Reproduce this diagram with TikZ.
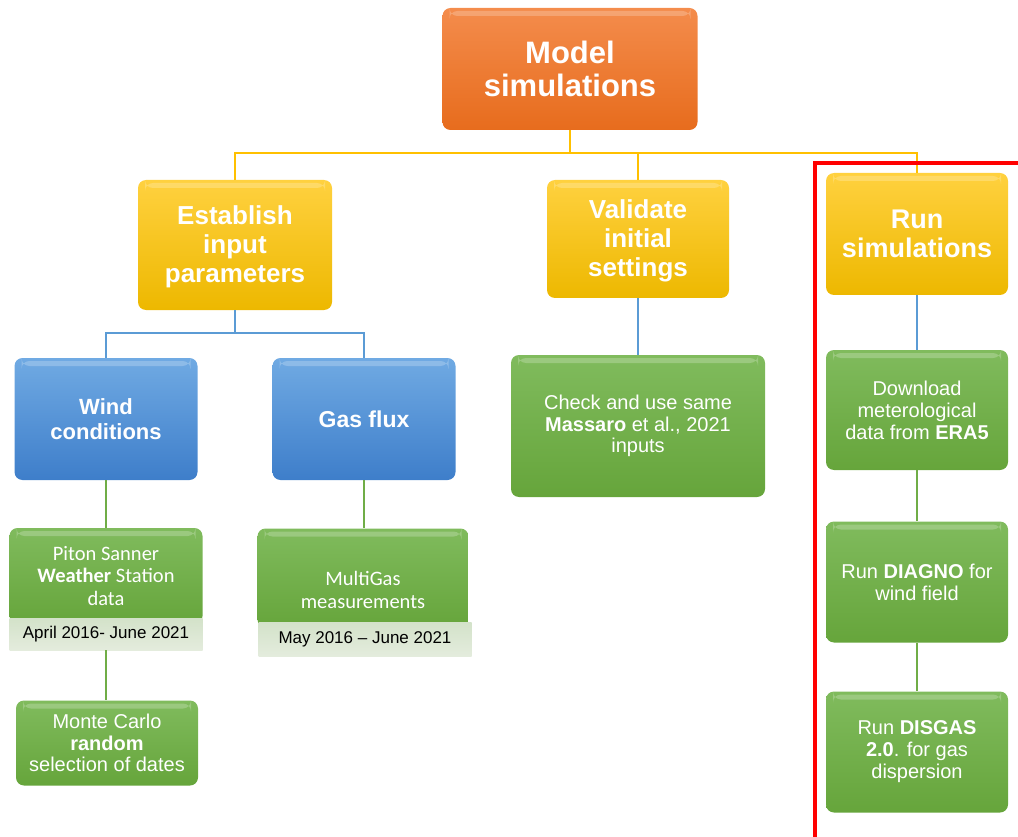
\documentclass[tikz,border=0pt]{standalone}
\usepackage{fontspec}
\setmainfont{Liberation Sans}
\newfontfamily\calibri{Carlito}

\definecolor{orTop}{HTML}{F48C4C}
\definecolor{orBot}{HTML}{E76C1D}
\definecolor{yeTop}{HTML}{FFD13F}
\definecolor{yeBot}{HTML}{EDB800}
\definecolor{blTop}{HTML}{70AAE3}
\definecolor{blBot}{HTML}{3E7ECA}
\definecolor{grTop}{HTML}{80BB5D}
\definecolor{grBot}{HTML}{66A53B}
\definecolor{bandTop}{HTML}{D3E2C9}
\definecolor{bandBot}{HTML}{E4ECDD}
\definecolor{yeLine}{HTML}{FFC000}
\definecolor{blLine}{HTML}{5B9BD5}
\definecolor{grLine}{HTML}{70AD47}
\definecolor{frameRed}{HTML}{FF0000}

\tikzset{
  box/.style={rounded corners=8pt, align=center, text=white, inner sep=0pt,
    path picture={\fill[white,opacity=0.22]
      ([xshift=7pt,yshift=-3pt]path picture bounding box.north west) rectangle
      ([xshift=-7pt,yshift=-8pt]path picture bounding box.north east);}},
  orangebox/.style={box, top color=orTop, bottom color=orBot},
  yellowbox/.style={box, top color=yeTop, bottom color=yeBot},
  bluebox/.style={box, top color=blTop, bottom color=blBot},
  greenbox/.style={box, top color=grTop, bottom color=grBot},
  band/.style={top color=bandTop, bottom color=bandBot, inner sep=0pt, text=black,
    font=\fontsize{17}{19}\selectfont},
  txt/.style={align=center, text=white, inner sep=0pt},
  yline/.style={draw=yeLine, line width=2pt},
  bline/.style={draw=blLine, line width=2pt},
  gline/.style={draw=grLine, line width=2pt},
}

\begin{document}
\begin{tikzpicture}[x=1pt,y=-1pt]
\useasboundingbox (0,0) rectangle (1018,837);

% top level
\node[orangebox, minimum width=255pt, minimum height=122pt,
  font=\bfseries\fontsize{31}{33}\selectfont] (model) at (570,69) {Model\\simulations};

% second level
\node[yellowbox, minimum width=194pt, minimum height=130pt] (est) at (235,245) {};
\node[txt, font=\bfseries\fontsize{26}{29}\selectfont] (esttext) at (235,247)
  {Establish\\input\\parameters};
\node[yellowbox, minimum width=182pt, minimum height=118pt] (val) at (638,239) {};
\node[txt, font=\bfseries\fontsize{26}{29}\selectfont] (valtext) at (638,241)
  {Validate\\initial\\settings};
\node[yellowbox, minimum width=182pt, minimum height=122pt,
  font=\bfseries\fontsize{27}{29}\selectfont] (run) at (917,234) {Run\\simulations};

% third level
\node[bluebox, minimum width=183pt, minimum height=122pt,
  font=\bfseries\fontsize{22}{25}\selectfont] (wind) at (106,419) {Wind\\conditions};
\node[bluebox, minimum width=183pt, minimum height=122pt,
  font=\bfseries\fontsize{23}{25}\selectfont] (gas) at (364,419) {Gas flux};
\node[greenbox, minimum width=254pt, minimum height=142pt,
  font=\fontsize{20}{21.5}\selectfont] (check) at (638,426)
  {Check and use same\\\textbf{Massaro} et al., 2021\\inputs};

% wind branch
\node[greenbox, minimum width=193pt, minimum height=96pt,
  font=\calibri\fontsize{20.5}{22.5}\selectfont] (piton) at (106,576)
  {Piton Sanner\\\textbf{Weather} Station\\data};
\node[band, minimum width=193pt, minimum height=32pt] (pitondates) at (106,634)
  {April 2016- June 2021};
\node[greenbox, minimum width=182pt, minimum height=85pt,
  font=\fontsize{20}{21.5}\selectfont] (monte) at (107,743)
  {Monte Carlo\\\textbf{random}\\selection of dates};

% gas branch
\node[greenbox, minimum width=211pt, minimum height=99pt] (multi) at (363,578) {};
\node[txt, font=\calibri\fontsize{20.5}{22.5}\selectfont] (multitext) at (363,590)
  {MultiGas\\measurements};
\node[band, minimum width=213pt, minimum height=34pt] (multidates) at (365,639)
  {May 2016 -- June 2021};

% simulation chain
\node[greenbox, minimum width=182pt, minimum height=120pt,
  font=\fontsize{20}{22}\selectfont] (era) at (917,410)
  {Download\\meterological\\data from \textbf{ERA5}};
\node[greenbox, minimum width=182pt, minimum height=121pt,
  font=\fontsize{20}{22}\selectfont] (diagno) at (917,582)
  {Run \textbf{DIAGNO} for\\wind field};
\node[greenbox, minimum width=182pt, minimum height=121pt,
  font=\fontsize{20}{22}\selectfont] (disgas) at (917,752)
  {Run \textbf{DISGAS}\\\textbf{2.0}. for gas\\dispersion};

% connectors
\path[yline] (model.south) -- ++(0,23) -| (est.north);
\path[yline] (model.south) -- ++(0,23) -| (val.north);
\path[yline] (model.south) -- ++(0,23) -| (run.north);
\path[bline] (est.south) -- ++(0,23) -| (wind.north);
\path[bline] (est.south) -- ++(0,23) -| (gas.north);
\path[bline] (val.south) -- (val.south |- check.north);
\path[bline] (run.south) -- (run.south |- era.north);
\path[gline] (wind.south) -- (wind.south |- piton.north);
\path[gline] (gas.south) -- (gas.south |- multi.north);
\path[gline] (pitondates.south) -- (pitondates.south |- monte.north);
\path[gline] (era.south) -- (era.south |- diagno.north);
\path[gline] (diagno.south) -- (diagno.south |- disgas.north);

% highlight frame
\coordinate (f1) at (1020,163);
\coordinate (f2) at (815,163);
\coordinate (f3) at (815,840);
\draw[frameRed, line width=3.5pt] (f1) -- (f2) -- (f3);
\end{tikzpicture}
\end{document}
